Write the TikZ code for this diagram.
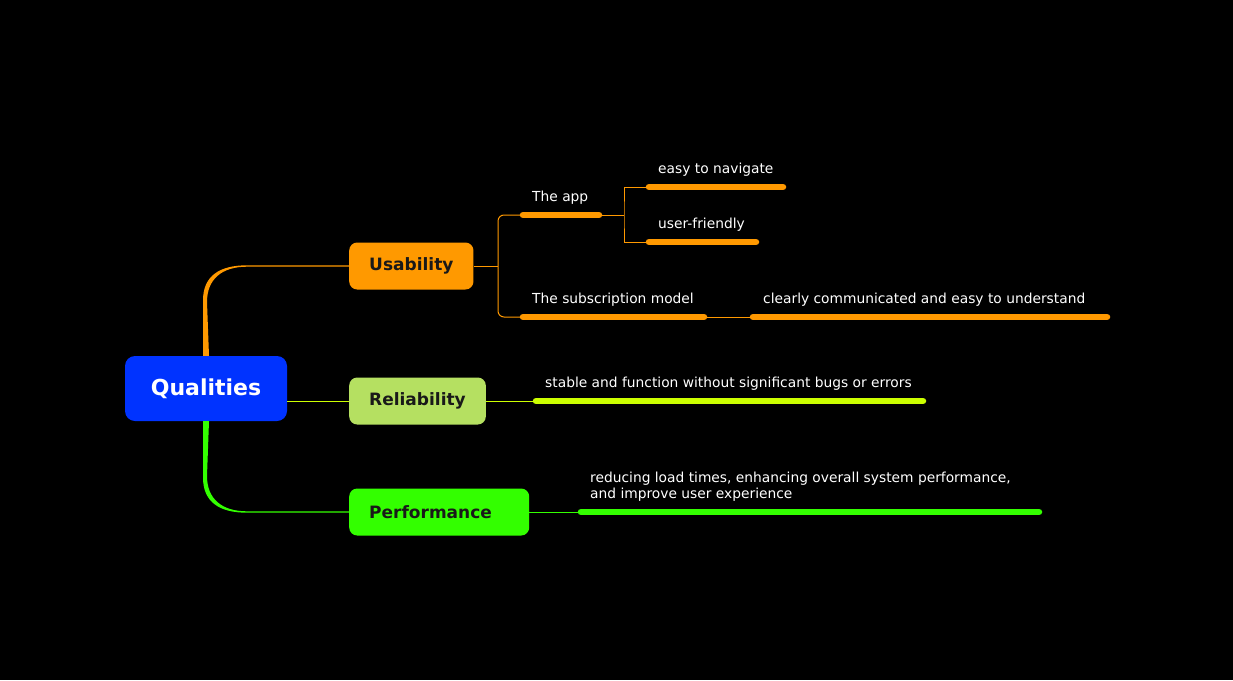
\documentclass[tikz,border=0pt]{standalone}
\usepackage{fontspec}
\setmainfont{DejaVu Sans}
\usetikzlibrary{calc}
\definecolor{rootblue}{HTML}{0033FF}
\definecolor{usaorange}{HTML}{FF9900}
\definecolor{relgreen}{HTML}{B5E061}
\definecolor{relline}{HTML}{CCFF00}
\definecolor{perfgreen}{HTML}{33FF00}
\begin{document}
\begin{tikzpicture}[x=1pt, y=-1pt,
    topic/.style={anchor=west, rounded corners=8pt, minimum height=47pt, inner xsep=20pt,
      text=black!90, font=\fontsize{17}{20}\selectfont\bfseries},
    leaf/.style={anchor=base west, inner sep=0pt, text=white, font=\fontsize{13.8}{16.7}\selectfont},
    bar/.style={line width=6.5pt, line cap=round},
    twig/.style={line width=1pt}]
  \fill[black] (0,0) rectangle (1233,680);

  \node[fill=rootblue, rounded corners=10pt, minimum width=162pt, minimum height=65pt,
    text=white, font=\fontsize{22}{26}\selectfont\bfseries] (root) at (206,388.5) {Qualities};
  \node[topic, fill=usaorange] (usa) at (349,266) {Usability};
  \node[topic, fill=relgreen] (rel) at (349,401) {Reliability};
  \node[topic, fill=perfgreen, text width=140pt] (perf) at (349,512) {Performance};

  % main branches, thick at the root
  \fill[usaorange] ($(root.north)+(-3,0)$) -- ($(root.north |- usa.west)+(-3,34.5)$)
    .. controls +(0,-25) and +(-27,0) .. ($(root.north |- usa.west)+(41,-0.7)$)
    -- ($(usa.west)+(0,-0.7)$) -- ($(usa.west)+(0,0.7)$)
    -- ($(root.north |- usa.west)+(41,0.7)$)
    .. controls +(-25,0) and +(0,-23) .. ($(root.north |- usa.west)+(1,36)$)
    -- ($(root.north)+(3,0)$) -- cycle;
  \fill[perfgreen] ($(root.south)+(-3,0)$) -- ($(root.south |- perf.west)+(-3,-34.5)$)
    .. controls +(0,25) and +(-27,0) .. ($(root.south |- perf.west)+(41,0.7)$)
    -- ($(perf.west)+(0,0.7)$) -- ($(perf.west)+(0,-0.7)$)
    -- ($(root.south |- perf.west)+(41,-0.7)$)
    .. controls +(-25,0) and +(0,23) .. ($(root.south |- perf.west)+(1,-36)$)
    -- ($(root.south)+(3,0)$) -- cycle;
  \draw[twig, relline] (root.east |- rel.west) -- (rel.west);

  % bar ends
  \coordinate (app-l) at (523,215);     \coordinate (app-r) at (599,215);
  \coordinate (nav-l) at (649,187);     \coordinate (nav-r) at (783,187);
  \coordinate (friend-l) at (649,242);  \coordinate (friend-r) at (756,242);
  \coordinate (sub-l) at (523,317);     \coordinate (sub-r) at (704,317);
  \coordinate (clear-l) at (753,317);   \coordinate (clear-r) at (1107,317);
  \coordinate (stable-l) at (536,401);  \coordinate (stable-r) at (923,401);
  \coordinate (reduce-l) at (581,512);  \coordinate (reduce-r) at (1039,512);
  \coordinate (usa-fork) at (498,266);
  \coordinate (app-fork) at (624,215);

  % thin links
  \draw[twig, usaorange] (usa.east) -- (usa-fork);
  \draw[twig, usaorange, rounded corners=6pt] (app-l) -| (usa-fork) |- (sub-l);
  \draw[twig, usaorange] (app-r) -- (app-fork);
  \draw[twig, usaorange] (nav-l) -| (app-fork) |- (friend-l);
  \draw[twig, usaorange] (sub-r) -- (clear-l);
  \draw[twig, relline] (rel.east) -- (stable-l);
  \draw[twig, perfgreen] (perf.east) -- (reduce-l);

  % bars
  \draw[bar, usaorange] (app-l) -- (app-r);
  \draw[bar, usaorange] (nav-l) -- (nav-r);
  \draw[bar, usaorange] (friend-l) -- (friend-r);
  \draw[bar, usaorange] (sub-l) -- (sub-r);
  \draw[bar, usaorange] (clear-l) -- (clear-r);
  \draw[bar, relline] (stable-l) -- (stable-r);
  \draw[bar, perfgreen] (reduce-l) -- (reduce-r);

  % texts
  \node[leaf] (app) at ($(app-l)+(9,-13.5)$) {The app};
  \node[leaf] (nav) at ($(nav-l)+(9,-13.5)$) {easy to navigate};
  \node[leaf] (friend) at ($(friend-l)+(9,-13.5)$) {user-friendly};
  \node[leaf] (sub) at ($(sub-l)+(9,-13.5)$) {The subscription model};
  \node[leaf] (clear) at ($(clear-l)+(10,-13.5)$) {clearly communicated and easy to understand};
  \node[leaf] (stable) at ($(stable-l)+(9,-13.5)$) {stable and function without significant bugs or errors};
  \node[leaf, anchor=south west, align=left] (reduce) at ($(reduce-l)+(9,-10)$)
    {reducing load times, enhancing overall system performance,\\and improve user experience};
\end{tikzpicture}
\end{document}
